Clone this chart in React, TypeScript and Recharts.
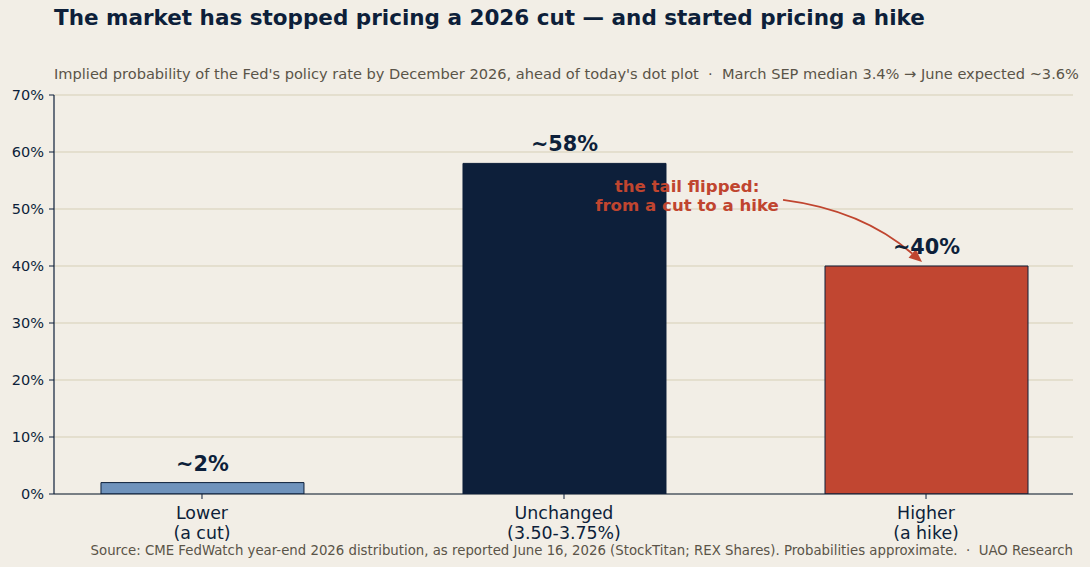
import React from 'react';
import { BarChart, Bar, Cell, XAxis, YAxis, CartesianGrid, LabelList, ReferenceLine } from 'recharts';

const categories = ['Lower|(a cut)', 'Unchanged|(3.50-3.75%)', 'Higher|(a hike)'];
const probabilities = [2, 58, 40];
const valueLabels = ['~2%', '~58%', '~40%'];
const barColors = ['#7093bc', '#0d1f3a', '#c14631'];
const yTicks = [0, 10, 20, 30, 40, 50, 60, 70];

const NAVY = '#0d1f3a';
const RUST = '#c0452f';
const BG = '#f2eee6';
const GRID = '#d6cfb6';
const MUTED = '#5a5448';
const DEJAVU = "'DejaVu Sans', sans-serif";

const data = categories.map((c, i) => ({
  pos: i,
  label: c,
  value: probabilities[i],
  tag: valueLabels[i],
}));

function CategoryTick(props: any) {
  const { x, y, payload } = props;
  const lines = categories[payload.value].split('|');
  return (
    <g>
      {lines.map((ln, i) => (
        <text key={i} x={x} y={y + 18 + i * 20} textAnchor="middle" fontFamily={DEJAVU} fontSize={17.4} fill={NAVY}>
          {ln}
        </text>
      ))}
    </g>
  );
}

function ValueTag(props: any) {
  const { x, y, width, value } = props;
  return (
    <text x={x + width / 2} y={y - 12} textAnchor="middle" fontFamily={DEJAVU} fontWeight="bold" fontSize={20.8} fill={NAVY}>
      {value}
    </text>
  );
}

// curved arrow + callout text, positioned from the segment ends
function Callout(props: any) {
  const { x1, y1, x2, y2 } = props;
  const dx = x2 - x1;
  const dy = y2 - y1;
  const cx = (x1 + x2) / 2 + 0.15 * dy;
  const cy = (y1 + y2) / 2 - 0.15 * dx;
  const tx = x2 - cx;
  const ty = y2 - cy;
  const len = Math.sqrt(tx * tx + ty * ty);
  const ux = tx / len;
  const uy = ty / len;
  const head = 13;
  const half = 5.5;
  const bx = x2 - ux * head;
  const by = y2 - uy * head;
  return (
    <g>
      <path d={`M${x1},${y1} Q${cx},${cy} ${bx},${by}`} fill="none" stroke={RUST} strokeWidth={2} />
      <path
        d={`M${x2},${y2} L${bx - uy * half},${by + ux * half} L${bx + uy * half},${by - ux * half} Z`}
        fill={RUST}
      />
      <text textAnchor="middle" fontFamily={DEJAVU} fontWeight="bold" fontSize={16.6} fill={RUST}>
        <tspan x={x1 - 96} y={y1 - 8}>the tail flipped:</tspan>
        <tspan x={x1 - 96} y={y1 + 11.5}>from a cut to a hike</tspan>
      </text>
    </g>
  );
}

export default function App() {
  return (
    <div style={{ position: 'absolute', left: 0, top: 0, width: 1090, height: 567, background: BG }}>
      <svg width={1090} height={567} style={{ position: 'absolute', left: 0, top: 0 }}>
        <text x={54} y={25} fontFamily={DEJAVU} fontWeight="bold" fontSize={21.5} fill={NAVY}>
          The market has stopped pricing a 2026 cut — and started pricing a hike
        </text>
        <text x={54} y={79} fontFamily={DEJAVU} fontSize={14.6} fill={MUTED} style={{ whiteSpace: 'pre' }}>
          {"Implied probability of the Fed's policy rate by December 2026, ahead of today's dot plot  ·  March SEP median 3.4% → June expected ~3.6%"}
        </text>
        <text x={1073} y={555} textAnchor="end" fontFamily={DEJAVU} fontSize={13.3} fill={MUTED} style={{ whiteSpace: 'pre' }}>
          {'Source: CME FedWatch year-end 2026 distribution, as reported June 16, 2026 (StockTitan; REX Shares). Probabilities approximate.  ·  UAO Research'}
        </text>
      </svg>
      <div style={{ position: 'absolute', left: 0, top: 0 }}>
        <BarChart width={1090} height={567} data={data} margin={{ top: 95, right: 17, left: 0, bottom: 0 }}>
          <CartesianGrid vertical={false} stroke={GRID} strokeWidth={1} />
          <XAxis
            type="number"
            dataKey="pos"
            domain={[-0.4088, 2.406]}
            ticks={[0, 1, 2]}
            allowDataOverflow
            height={73}
            stroke={NAVY}
            tick={<CategoryTick />}
            tickSize={5}
            tickLine={{ stroke: NAVY }}
            axisLine={{ stroke: NAVY, strokeWidth: 1.2 }}
          />
          <YAxis
            domain={[0, 70]}
            ticks={yTicks}
            allowDataOverflow
            width={54}
            stroke={NAVY}
            tickSize={5}
            tickMargin={5}
            tickFormatter={(v: number) => `${v}%`}
            tick={{ fontFamily: DEJAVU, fontSize: 14.5, fill: NAVY }}
            tickLine={{ stroke: NAVY }}
            axisLine={{ stroke: NAVY, strokeWidth: 1.2 }}
          />
          <Bar dataKey="value" barSize={203} stroke={NAVY} strokeWidth={1} isAnimationActive={false}>
            {data.map((d, i) => (
              <Cell key={d.label} fill={barColors[i]} />
            ))}
            <LabelList dataKey="tag" content={<ValueTag />} />
          </Bar>
          <ReferenceLine
            segment={[
              { x: 1.605, y: 51.6 },
              { x: 1.989, y: 40.7 },
            ]}
            shape={(p: any) => <Callout {...p} />}
            ifOverflow="visible"
          />
        </BarChart>
      </div>
    </div>
  );
}
